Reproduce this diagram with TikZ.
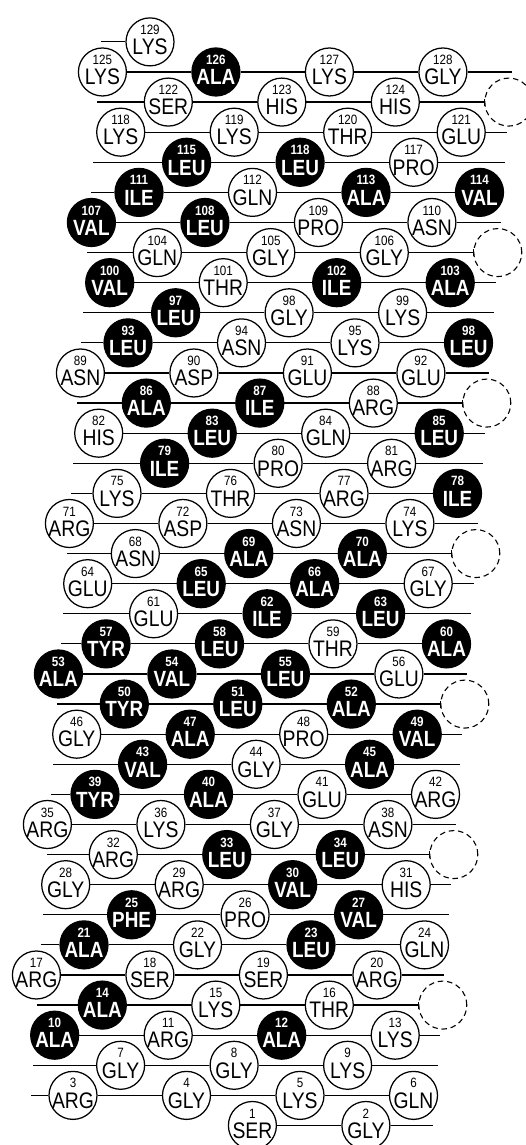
\documentclass[tikz,border=0pt]{standalone}
\usepackage{fontspec}
\setmainfont{Liberation Sans}
\newfontfamily\resfont[FakeStretch=0.86]{Liberation Sans}
\begin{document}
\begin{tikzpicture}[x=1pt,y=1pt,
  res/.style={circle, draw=black, line width=1.25pt, minimum size=48pt, inner sep=0pt, fill=white},
  resb/.style={res, fill=black},
  dcirc/.style={circle, draw=black, line width=1.1pt, dash pattern=on 5.5pt off 3.8pt, minimum size=48pt, inner sep=0pt},
  conn/.style={draw=black, line width=1.2pt},
  tick/.style={draw=black, line width=1.1pt},
  numw/.style={anchor=base, inner sep=0pt, font=\resfont\fontsize{13.5}{13.5}\selectfont},
  namew/.style={anchor=base, inner sep=0pt, font=\resfont\fontsize{22.5}{22.5}\selectfont},
  numb/.style={numw, text=white, font=\resfont\bfseries\fontsize{13.5}{13.5}\selectfont},
  nameb/.style={namew, text=white, font=\resfont\bfseries\fontsize{22}{22}\selectfont}]
\useasboundingbox (0,0) rectangle (525,1145);
\fill[white] (0,0) rectangle (525,1145);
% residues: index / row / name / black / printed number
\foreach \i/\r/\nm/\b/\lab in {
1/0/SER/0/1, 2/0/GLY/0/2,
3/1/ARG/0/3, 4/1/GLY/0/4, 5/1/LYS/0/5, 6/1/GLN/0/6,
7/2/GLY/0/7, 8/2/GLY/0/8, 9/2/LYS/0/9,
10/3/ALA/1/10, 11/3/ARG/0/11, 12/3/ALA/1/12, 13/3/LYS/0/13,
14/4/ALA/1/14, 15/4/LYS/0/15, 16/4/THR/0/16,
17/5/ARG/0/17, 18/5/SER/0/18, 19/5/SER/0/19, 20/5/ARG/0/20,
21/6/ALA/1/21, 22/6/GLY/0/22, 23/6/LEU/1/23, 24/6/GLN/0/24,
25/7/PHE/1/25, 26/7/PRO/0/26, 27/7/VAL/1/27,
28/8/GLY/0/28, 29/8/ARG/0/29, 30/8/VAL/1/30, 31/8/HIS/0/31,
32/9/ARG/0/32, 33/9/LEU/1/33, 34/9/LEU/1/34,
35/10/ARG/0/35, 36/10/LYS/0/36, 37/10/GLY/0/37, 38/10/ASN/0/38,
39/11/TYR/1/39, 40/11/ALA/1/40, 41/11/GLU/0/41, 42/11/ARG/0/42,
43/12/VAL/1/43, 44/12/GLY/0/44, 45/12/ALA/1/45,
46/13/GLY/0/46, 47/13/ALA/1/47, 48/13/PRO/0/48, 49/13/VAL/1/49,
50/14/TYR/1/50, 51/14/LEU/1/51, 52/14/ALA/1/52,
53/15/ALA/1/53, 54/15/VAL/1/54, 55/15/LEU/1/55, 56/15/GLU/0/56,
57/16/TYR/1/57, 58/16/LEU/1/58, 59/16/THR/0/59, 60/16/ALA/1/60,
61/17/GLU/0/61, 62/17/ILE/1/62, 63/17/LEU/1/63,
64/18/GLU/0/64, 65/18/LEU/1/65, 66/18/ALA/1/66, 67/18/GLY/0/67,
68/19/ASN/0/68, 69/19/ALA/1/69, 70/19/ALA/1/70,
71/20/ARG/0/71, 72/20/ASP/0/72, 73/20/ASN/0/73, 74/20/LYS/0/74,
75/21/LYS/0/75, 76/21/THR/0/76, 77/21/ARG/0/77, 78/21/ILE/1/78,
79/22/ILE/1/79, 80/22/PRO/0/80, 81/22/ARG/0/81,
82/23/HIS/0/82, 83/23/LEU/1/83, 84/23/GLN/0/84, 85/23/LEU/1/85,
86/24/ALA/1/86, 87/24/ILE/1/87, 88/24/ARG/0/88,
89/25/ASN/0/89, 90/25/ASP/0/90, 91/25/GLU/0/91, 92/25/GLU/0/92,
93/26/LEU/1/93, 94/26/ASN/0/94, 95/26/LYS/0/95, 96/26/LEU/1/98,
97/27/LEU/1/97, 98/27/GLY/0/98, 99/27/LYS/0/99,
100/28/VAL/1/100, 101/28/THR/0/101, 102/28/ILE/1/102, 103/28/ALA/1/103,
104/29/GLN/0/104, 105/29/GLY/0/105, 106/29/GLY/0/106,
107/30/VAL/1/107, 108/30/LEU/1/108, 109/30/PRO/0/109, 110/30/ASN/0/110,
111/31/ILE/1/111, 112/31/GLN/0/112, 113/31/ALA/1/113, 114/31/VAL/1/114,
115/32/LEU/1/115, 116/32/LEU/1/118, 117/32/PRO/0/117,
118/33/LYS/0/118, 119/33/LYS/0/119, 120/33/THR/0/120, 121/33/GLU/0/121,
122/34/SER/0/122, 123/34/HIS/0/123, 124/34/HIS/0/124,
125/35/LYS/0/125, 126/35/ALA/1/126, 127/35/LYS/0/127, 128/35/GLY/0/128,
129/36/LYS/0/129}{
  \pgfmathsetmacro\xx{138.9+113.5*\i-406.4*\r}
  \pgfmathsetmacro\yy{19.5+30.1*\r}
  \ifnum\b=1
    \node[resb] (r\i) at (\xx,\yy) {};
    \node[numb] (n\i) at (\xx,\yy+7.4) {\lab};
    \node[nameb] (t\i) at (\xx,\yy-12.8) {\nm};
  \else
    \node[res] (r\i) at (\xx,\yy) {};
    \node[numw] (n\i) at (\xx,\yy+7.4) {\lab};
    \node[namew] (t\i) at (\xx,\yy-12.8) {\nm};
  \fi
}
% rows: row / first / last / left extension / right end (0 circle, 1 free, 2 dashed)
\foreach \r/\f/\l/\le/\re in {
0/1/2/0/1, 1/3/6/1/0, 2/7/9/1/1, 3/10/13/0/1, 4/14/16/1/2,
5/17/20/0/1, 6/21/24/1/0, 7/25/27/1/1, 8/28/31/0/1, 9/32/34/1/2,
10/35/38/0/1, 11/39/42/1/0, 12/43/45/1/1, 13/46/49/0/1, 14/50/52/1/2,
15/53/56/0/1, 16/57/60/1/0, 17/61/63/1/1, 18/64/67/0/1, 19/68/70/1/2,
20/71/74/0/1, 21/75/78/1/0, 22/79/81/1/1, 23/82/85/0/1, 24/86/88/1/2,
25/89/92/0/1, 26/93/96/1/0, 27/97/99/1/1, 28/100/103/0/1, 29/104/106/1/2,
30/107/110/0/1, 31/111/114/1/0, 32/115/117/1/1, 33/118/121/0/1, 34/122/124/1/2,
35/125/128/0/1, 36/129/129/1/0}{
  \pgfmathsetmacro\yy{19.5+30.1*\r}
  \pgfmathtruncatemacro\lm{\l-1}
  \ifnum\l>\f
    \foreach \k in {\f,...,\lm}{
      \pgfmathtruncatemacro\kn{\k+1}
      \draw[conn] (r\k) -- (r\kn);
    }
  \fi
  \ifnum\le=1
    \coordinate (L\r) at (29+2.0*\r,\yy);
    \draw[conn] (L\r) -- (r\f);
  \fi
  \ifnum\re=1
    \coordinate (R\r) at (433+2.25*\r,\yy);
    \draw[conn] (r\l) -- (R\r);
  \fi
  \ifnum\re=2
    \pgfmathsetmacro\xd{138.9+113.5*(\l+1)-406.4*\r}
    \node[dcirc] (d\r) at (\xd,\yy) {};
    \draw[conn] (r\l) -- (d\r.west);
    \draw[tick] ([yshift=-3.5pt]d\r.west) -- ([yshift=3.5pt]d\r.west);
  \fi
}
\end{tikzpicture}
\end{document}
